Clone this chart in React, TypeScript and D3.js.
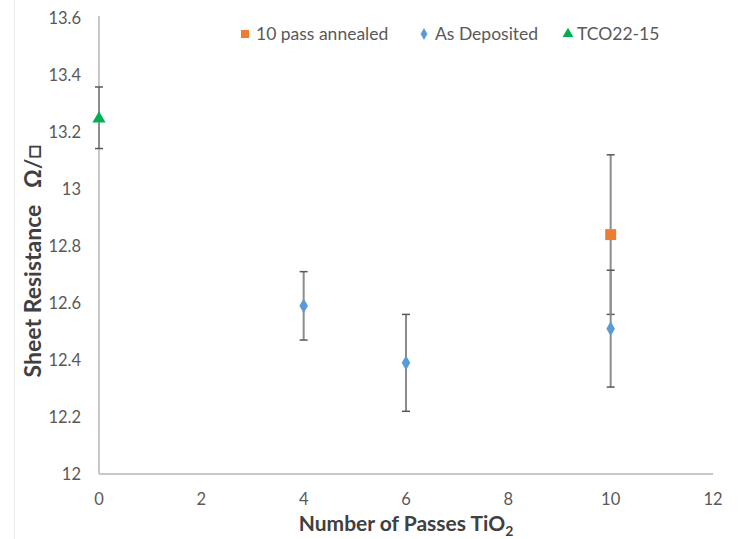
import React, { useEffect, useRef } from "react";
import * as d3 from "d3";

const W = 746;
const H = 539;

const xTicks = [0, 2, 4, 6, 8, 10, 12];
const yTicks = [12, 12.2, 12.4, 12.6, 12.8, 13, 13.2, 13.4, 13.6];

const seriesNames = ["10 pass annealed", "As Deposited", "TCO22-15"];
const seriesColors = ["#ED7D31", "#5B9BD5", "#00B050"];
const seriesShapes = ["square", "diamond", "triangle"];

const annealedX = [10];
const annealedY = [12.84];
const annealedErr = [0.28];

const depositedX = [4, 6, 10];
const depositedY = [12.59, 12.39, 12.51];
const depositedErr = [0.12, 0.17, 0.205];

const tcoX = [0];
const tcoY = [13.25];
const tcoErr = [0.108];

export default function App() {
  const ref = useRef<SVGSVGElement>(null);

  useEffect(() => {
    const svg = d3.select(ref.current);
    svg.selectAll("*").remove();

    const left = 99, right = 713, top = 18, bottom = 474;
    const x = d3.scaleLinear().domain([0, 12]).range([left, right]);
    const y = d3.scaleLinear().domain([12, 13.6]).range([bottom, top]);
    const font = "Lato, 'Open Sans', sans-serif";

    // faint border line
    svg.append("line").attr("x1", 14.5).attr("x2", 14.5).attr("y1", 0).attr("y2", H)
      .attr("stroke", "#ececec").attr("stroke-width", 1);

    // axes lines
    svg.append("line").attr("x1", left).attr("x2", left).attr("y1", y(13.6) - 2).attr("y2", bottom)
      .attr("stroke", "#c8c8c8").attr("stroke-width", 2);
    svg.append("line").attr("x1", left).attr("x2", right).attr("y1", bottom).attr("y2", bottom)
      .attr("stroke", "#c8c8c8").attr("stroke-width", 2);

    // y tick labels
    svg.append("g").selectAll("text").data(yTicks).join("text")
      .attr("x", 81).attr("y", (d) => y(d)).attr("dy", "0.35em")
      .attr("text-anchor", "end").attr("font-family", font).attr("font-size", 16.5)
      .attr("fill", "#595959").text((d) => d3.format("~g")(d));

    // x tick labels
    svg.append("g").selectAll("text").data(xTicks).join("text")
      .attr("x", (d) => x(d)).attr("y", 499).attr("dy", "0.35em").attr("text-anchor", "middle")
      .attr("font-family", font).attr("font-size", 16.5).attr("fill", "#595959")
      .text((d) => String(d));

    // axis titles
    const xt = svg.append("text").attr("x", 406).attr("y", 531).attr("text-anchor", "middle")
      .attr("font-family", font).attr("font-size", 21).attr("font-weight", "bold").attr("fill", "#404040");
    xt.append("tspan").text("Number of Passes TiO");
    xt.append("tspan").attr("font-size", 14).attr("dy", 5).text("2");

    svg.append("text").attr("transform", "translate(41,261) rotate(-90)").attr("text-anchor", "middle")
      .attr("font-family", font).attr("font-size", 23).attr("font-weight", "bold").attr("fill", "#404040")
      .attr("xml:space", "preserve")
      .text("Sheet Resistance   Ω/□");

    const symbolFor = (shape: string) =>
      shape === "square" ? d3.symbolSquare : shape === "diamond" ? d3.symbolDiamond : d3.symbolTriangle;
    const sizeFor = (shape: string) => (shape === "square" ? 120 : shape === "diamond" ? 64 : 75);

    const series = [
      { xs: annealedX, ys: annealedY, es: annealedErr, i: 0 },
      { xs: depositedX, ys: depositedY, es: depositedErr, i: 1 },
      { xs: tcoX, ys: tcoY, es: tcoErr, i: 2 },
    ];

    // error bars
    const eg = svg.append("g");
    series.forEach((s) => {
      s.xs.forEach((xv, k) => {
        const cx = x(xv);
        const y1 = y(s.ys[k] + s.es[k]);
        const y2 = y(s.ys[k] - s.es[k]);
        eg.append("line").attr("x1", cx).attr("x2", cx).attr("y1", y1).attr("y2", y2)
          .attr("stroke", "#8c8c8c").attr("stroke-width", 2);
        [y1, y2].forEach((yy) => {
          eg.append("line").attr("x1", cx - 4).attr("x2", cx + 4).attr("y1", yy).attr("y2", yy)
            .attr("stroke", "#595959").attr("stroke-width", 1.5);
        });
      });
    });

    // markers
    const mg = svg.append("g");
    series.forEach((s) => {
      const shape = seriesShapes[s.i];
      s.xs.forEach((xv, k) => {
        mg.append("path")
          .attr("d", d3.symbol().type(symbolFor(shape)).size(sizeFor(shape))()!)
          .attr("transform", `translate(${x(xv)},${y(s.ys[k]) + (shape === "triangle" ? 1 : 0)})`)
          .attr("fill", seriesColors[s.i]);
      });
    });

    // legend
    const legendX = [245, 424, 568];
    const lg = svg.append("g");
    seriesNames.forEach((name, i) => {
      const shape = seriesShapes[i];
      lg.append("path")
        .attr("d", d3.symbol().type(symbolFor(shape)).size(shape === "square" ? 64 : shape === "diamond" ? 40 : 50)()!)
        .attr("transform", `translate(${legendX[i]},${34})`)
        .attr("fill", seriesColors[i]);
      lg.append("text").attr("x", legendX[i] + (i === 2 ? 9 : 11)).attr("y", 34).attr("dy", "0.35em")
        .attr("font-family", font).attr("font-size", 17.5).attr("fill", "#595959").text(name);
    });
  }, []);

  return (
    <svg ref={ref} width={W} height={H} style={{ position: "absolute", left: 0, top: 0, background: "#fff" }} />
  );
}
